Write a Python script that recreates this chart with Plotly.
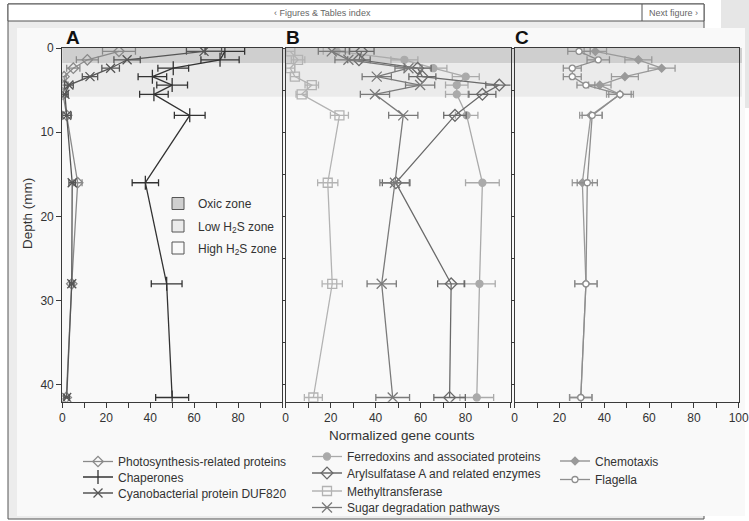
import plotly.graph_objects as go

# ---------------- data ----------------
depth = [0.4, 1.4, 2.4, 3.4, 4.4, 5.5, 8, 16, 28, 41.5]

# Panel A
photo = [25.8, 11.4, 5.0, 0.8, 1.2, 0.3, 2.0, 7.0, 4.3, 1.8]
photo_err = [7.5, 5.0, 3.0, 1.0, 1.5, 1.5, 2.0, 2.0, 1.0, 1.2]
chap = [74, 71.8, 50.5, 41, 50, 41.7, 58, 37.8, 47.5, 50]
chap_err = [9, 8.7, 7, 6.5, 7, 6.5, 7, 6, 7, 7.5]
duf = [64.5, 29.5, 22, 12.6, 3, 1.2, 2, 4.5, 4.3, 2]
duf_err = [8, 6, 4, 3.5, 2, 1.5, 2, 1.5, 1.0, 1.2]

# Panel B
ferre = [22.7, 52.8, 65.7, 80.1, 76.1, 76.1, 80.5, 87.5, 86.2, 85]
ferre_err = [6, 6, 6, 6, 5, 5, 5, 7.5, 7, 7.5]
aryl = [33.8, 32.6, 58.7, 60.8, 95, 87.5, 75.3, 49, 73.6, 72.9]
aryl_err = [5.5, 5, 6, 6, 6, 6, 5, 6, 6, 7]
methyl = [2, 5.5, 2, 4.1, 11.6, 7.1, 23.9, 18.7, 20.7, 12.3]
methyl_err = [2, 3, 2, 2, 3, 2.5, 4, 4.5, 4.5, 4]
sugar = [20.5, 27.9, 54.6, 40.5, 59.8, 39.7, 52.3, 48.6, 42.7, 47.6]
sugar_err = [6, 6, 6, 6.5, 6.5, 6.5, 6.5, 6.7, 6.5, 7.5]

# Panel C
chemo = [36, 55.2, 65.6, 49.2, 38, 47, 34, 30.2, 31.8, 29.5]
chemo_err = [5, 6, 6, 6, 5, 6, 5, 4.5, 5, 5]
flag = [28.7, 37.3, 25.7, 25.7, 31.8, 47, 34.6, 32.4, 31.8, 29.5]
flag_err = [5, 5, 4, 4, 4, 5, 4.5, 4.5, 5, 5]

# zones (depth boundaries, mm)
zone_names = ["Oxic zone", "Low H<sub>2</sub>S zone", "High H<sub>2</sub>S zone"]
zone_top = [0, 1.8]
zone_bottom = [1.8, 5.8]
zone_colors = ["#cfcfcf", "#ebebeb", "#f9f9f9"]

x_major_ab = [0, 20, 40, 60, 80]
x_major_c = [0, 20, 40, 60, 80, 100]
x_minor_ab = [10, 30, 50, 70, 90, 100]
x_minor_c = [10, 30, 50, 70, 90]
y_ticks = [0, 10, 20, 30, 40]

# ---------------- layout helpers ----------------
W, H = 749, 521
FONT = "Liberation Sans, Arial, Helvetica, sans-serif"
def px(x):
    return x / W
def py(y):
    return 1 - y / H

fig = go.Figure()

series = [
    # name, x, err, axis, color, symbol, size, mfill, legend marker pos (x px, y px)
    ("Photosynthesis-related proteins", photo, photo_err, 1, "#8a8a8a", "diamond-open", 8, None, (98, 461.5)),
    ("Chaperones", chap, chap_err, 1, "#333333", "line-ns-open", 10, None, (98, 477)),
    ("Cyanobacterial protein DUF820", duf, duf_err, 1, "#555555", "x-thin-open", 9, None, (98, 493)),
    ("Ferredoxins and associated proteins", ferre, ferre_err, 2, "#aaaaaa", "circle", 7, None, (327, 456.5)),
    ("Arylsulfatase A and related enzymes", aryl, aryl_err, 2, "#6a6a6a", "diamond-open", 9, None, (327, 473)),
    ("Methyltransferase", methyl, methyl_err, 2, "#b3b3b3", "square-open", 9, None, (327, 491)),
    ("Sugar degradation pathways", sugar, sugar_err, 2, "#7a7a7a", "x-thin-open", 10, None, (327, 507.5)),
    ("Chemotaxis", chemo, chemo_err, 3, "#9a9a9a", "diamond", 6, None, (575, 461)),
    ("Flagella", flag, flag_err, 3, "#8e8e8e", "circle", 6, "white", (575, 479.5)),
]

legend_layouts = {}
lid = 0
for name, xs, err, ax, col, sym, size, mfill, (lx, ly) in series:
    lid += 1
    key = "legend" if lid == 1 else f"legend{lid}"
    axs = "" if ax == 1 else str(ax)
    marker = dict(symbol=sym, size=size, color=col if mfill is None else mfill,
                  line=dict(color=col, width=1.3))
    fig.add_trace(go.Scatter(
        x=xs, y=depth, mode="lines+markers", name=name,
        xaxis="x" + axs, yaxis="y" + axs,
        line=dict(color=col, width=1.3),
        marker=marker,
        error_x=dict(type="data", array=err, visible=True, color=col, thickness=1.3, width=3.5),
        legend=key, showlegend=True,
    ))
    legend_layouts[key] = dict(x=px(lx - 20), y=py(ly), xanchor="left", yanchor="middle",
                               bgcolor="rgba(0,0,0,0)", borderwidth=0,
                               font=dict(family=FONT, size=12, color="#333333"))

zone_leg_y = [203.5, 226, 248]
for i, zn in enumerate(zone_names):
    lid += 1
    key = f"legend{lid}"
    fig.add_trace(go.Scatter(
        x=[None], y=[None], mode="markers", name=zn, xaxis="x", yaxis="y",
        marker=dict(symbol="square", size=12, color=zone_colors[i], line=dict(color="#555555", width=1)),
        legend=key, showlegend=True,
    ))
    legend_layouts[key] = dict(x=px(178 - 20), y=py(zone_leg_y[i]), xanchor="left", yanchor="middle",
                               bgcolor="rgba(0,0,0,0)", borderwidth=0,
                               font=dict(family=FONT, size=12, color="#333333"))

# ---------------- shapes (page decoration + zones) ----------------
shapes = []
shapes.append(dict(type="rect", xref="paper", yref="paper", x0=px(721), x1=1, y0=py(108), y1=1,
                   fillcolor="#e6e6e6", line=dict(width=0), layer="below"))
shapes.append(dict(type="rect", xref="paper", yref="paper", x0=px(8), x1=px(704), y0=py(519), y1=py(4),
                   fillcolor="#ececec", line=dict(color="#555555", width=1), layer="below"))
shapes.append(dict(type="rect", xref="paper", yref="paper", x0=px(8), x1=px(704), y0=py(21), y1=py(4),
                   fillcolor="#ffffff", line=dict(color="#555555", width=1), layer="below"))
shapes.append(dict(type="line", xref="paper", yref="paper", x0=px(642), x1=px(642), y0=py(21), y1=py(4),
                   line=dict(color="#555555", width=1), layer="below"))
shapes.append(dict(type="rect", xref="paper", yref="paper", x0=px(17), x1=px(745), y0=py(516), y1=py(28),
                   fillcolor="#f9f9f9", line=dict(width=0), layer="below"))
for i in range(len(zone_top)):
    shapes.append(dict(type="rect", xref="paper", yref="y", x0=px(62.3), x1=px(742),
                       y0=zone_top[i], y1=zone_bottom[i], fillcolor=zone_colors[i],
                       line=dict(width=0), layer="below"))

# ---------------- annotations ----------------
ann = []
def add_text(text, x, y, size, color="#333333", angle=0):
    ann.append(dict(text=text, x=px(x), y=py(y), xref="paper", yref="paper", showarrow=False,
                    xanchor="center", yanchor="middle", textangle=angle,
                    font=dict(family=FONT, size=size, color=color)))

add_text("\u2039 Figures & Tables index", 322, 13, 9, "#666666")
add_text("Next figure \u203a", 673, 13, 9, "#666666")
for lab, xx in zip(["A", "B", "C"], [73, 293, 522]):
    add_text("<b>" + lab + "</b>", xx, 37.5, 19, "#111111")
add_text("Normalized gene counts", 402, 435, 13.5)
add_text("Depth (mm)", 27, 214, 13.5, angle=-90)

AXC = "#3a3a3a"
ydom = [py(401.7), py(48)]
def xaxis_cfg(domain, major, minor, anchor):
    return dict(range=[0, 100], domain=domain, anchor=anchor, automargin=False,
                showgrid=False, zeroline=False, showline=True, linecolor=AXC,
                linewidth=1.3, mirror=True, ticks="outside", ticklen=5, tickcolor=AXC, tickwidth=1.2,
                tickmode="array", tickvals=major, ticklabeloverflow="allow",
                tickfont=dict(family=FONT, size=12, color="#333333"),
                minor=dict(tickmode="array", tickvals=minor, ticks="outside", ticklen=5,
                           tickcolor=AXC, tickwidth=1.2, showgrid=False),
                fixedrange=True)
common_y = dict(range=[42, 0], domain=ydom, showgrid=False, zeroline=False, showline=True,
                linecolor=AXC, linewidth=1.3, fixedrange=True, automargin=False)

layout = dict(
    width=W, height=H, margin=dict(l=0, r=0, t=0, b=0, autoexpand=False),
    paper_bgcolor="#ffffff", plot_bgcolor="rgba(0,0,0,0)",
    showlegend=True,
    xaxis=xaxis_cfg([px(62.3), px(282)], x_major_ab, x_minor_ab, "y"),
    xaxis2=xaxis_cfg([px(285.7), px(510.5)], x_major_ab, x_minor_ab, "y2"),
    xaxis3=xaxis_cfg([px(514.7), px(738.7)], x_major_c, x_minor_c, "y3"),
    yaxis=dict(common_y, anchor="x", mirror=True, ticks="outside", ticklen=5, tickcolor=AXC,
               tickwidth=1.2, tickmode="array", tickvals=y_ticks,
               tickfont=dict(family=FONT, size=12, color="#333333")),
    yaxis2=dict(common_y, anchor="x2", matches="y", mirror="ticks", ticks="outside", ticklen=3,
                tickcolor=AXC, tickwidth=1, dtick=5, tick0=0, showticklabels=False),
    yaxis3=dict(common_y, anchor="x3", matches="y", mirror=True, ticks="outside", ticklen=3,
                tickcolor=AXC, tickwidth=1, dtick=5, tick0=0, showticklabels=False),
    shapes=shapes, annotations=ann,
)
layout.update(legend_layouts)
fig.update_layout(**layout)

fig.write_html("out.html", config={"displayModeBar": False},
               post_script="document.body.style.margin='0';document.body.style.padding='0';"
                           "document.documentElement.style.overflow='hidden';")
